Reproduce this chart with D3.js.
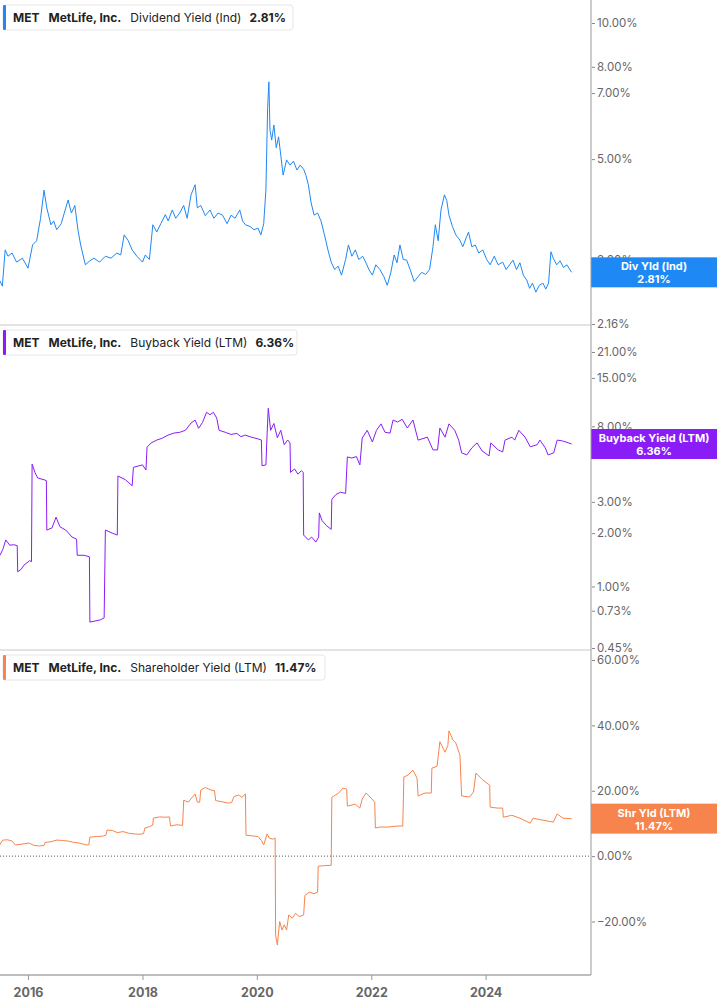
<!DOCTYPE html>
<html><head><meta charset="utf-8">
<script src="https://cdn.jsdelivr.net/npm/d3@7"></script>
<style>
body{margin:0;background:#fff;font-family:Inter,"Noto Sans",sans-serif}
</style></head><body>
<svg id="chart" width="717" height="1005"></svg>
<script>
// decimal year, value in %
const divYield = [
  [2015.50,2.70],[2015.55,2.62],[2015.60,3.15],[2015.65,3.05],[2015.72,3.10],[2015.80,2.96],[2015.90,3.02],[2016.00,2.87],
  [2016.08,3.23],[2016.15,3.30],[2016.22,3.70],[2016.28,4.27],[2016.33,3.90],[2016.40,3.58],[2016.45,3.65],[2016.50,3.49],
  [2016.58,3.60],[2016.65,3.86],[2016.70,4.06],[2016.76,3.80],[2016.82,3.95],[2016.87,3.50],[2016.92,3.23],[2017.00,2.92],
  [2017.08,2.98],[2017.15,3.02],[2017.25,2.96],[2017.35,3.05],[2017.45,3.02],[2017.55,3.10],[2017.62,3.07],[2017.68,3.40],
  [2017.75,3.30],[2017.82,3.15],[2017.90,3.05],[2018.00,2.96],[2018.05,3.07],[2018.12,3.00],[2018.18,3.58],[2018.25,3.45],
  [2018.32,3.60],[2018.40,3.77],[2018.45,3.65],[2018.52,3.86],[2018.58,3.70],[2018.65,3.80],[2018.72,3.95],[2018.78,3.70],
  [2018.85,4.17],[2018.92,4.39],[2018.96,3.90],[2019.02,3.95],[2019.10,3.75],[2019.18,3.86],[2019.25,3.70],[2019.32,3.80],
  [2019.40,3.76],[2019.48,3.60],[2019.55,3.76],[2019.62,3.70],[2019.70,3.86],[2019.75,3.65],[2019.80,3.58],[2019.88,3.55],
  [2019.95,3.49],[2020.02,3.52],[2020.07,3.40],[2020.12,3.60],[2020.16,4.27],[2020.19,6.50],[2020.21,7.41],[2020.23,5.80],
  [2020.26,5.51],[2020.30,5.95],[2020.34,5.30],[2020.38,5.60],[2020.42,5.10],[2020.46,4.61],[2020.52,4.98],[2020.58,4.85],
  [2020.64,4.95],[2020.70,4.73],[2020.76,4.85],[2020.82,4.75],[2020.86,4.60],[2020.90,4.39],[2020.95,4.00],[2021.00,3.76],
  [2021.06,3.80],[2021.12,3.65],[2021.18,3.40],[2021.24,3.15],[2021.30,2.96],[2021.36,2.85],[2021.42,2.90],[2021.48,2.77],
  [2021.55,3.00],[2021.60,3.23],[2021.66,3.05],[2021.72,3.15],[2021.78,3.00],[2021.85,3.05],[2021.90,2.96],[2021.96,2.85],
  [2022.02,2.77],[2022.08,2.92],[2022.15,2.85],[2022.22,2.75],[2022.28,2.63],[2022.34,2.80],[2022.40,3.07],[2022.45,2.95],
  [2022.50,3.23],[2022.56,3.00],[2022.62,2.99],[2022.68,2.85],[2022.75,2.68],[2022.82,2.75],[2022.88,2.81],[2022.95,2.78],
  [2023.02,2.85],[2023.08,3.20],[2023.12,3.58],[2023.17,3.30],[2023.22,3.86],[2023.28,4.17],[2023.32,4.05],[2023.36,3.76],
  [2023.42,3.55],[2023.48,3.40],[2023.55,3.31],[2023.60,3.20],[2023.66,3.35],[2023.70,3.45],[2023.76,3.20],[2023.82,3.23],
  [2023.88,3.10],[2023.95,3.15],[2024.02,3.00],[2024.08,2.92],[2024.15,3.05],[2024.22,2.92],[2024.30,2.96],[2024.36,2.85],
  [2024.42,2.92],[2024.48,2.99],[2024.54,2.85],[2024.60,2.95],[2024.66,2.77],[2024.72,2.70],[2024.77,2.59],[2024.82,2.66],
  [2024.88,2.54],[2024.94,2.63],[2025.00,2.66],[2025.05,2.58],[2025.10,2.66],[2025.14,3.12],[2025.18,3.02],[2025.24,2.92],
  [2025.30,2.98],[2025.36,2.88],[2025.42,2.92],[2025.50,2.81]
];
const buybackYield = [
  [2015.51,1.50],[2015.56,1.62],[2015.61,1.83],[2015.68,1.71],[2015.75,1.72],[2015.81,1.70],[2015.82,1.21],[2015.88,1.25],
  [2015.93,1.32],[2016.03,1.40],[2016.06,1.38],[2016.07,4.90],[2016.12,4.40],[2016.17,4.09],[2016.28,4.00],[2016.32,3.95],
  [2016.33,2.08],[2016.42,2.14],[2016.49,2.46],[2016.56,2.17],[2016.66,2.08],[2016.77,1.90],[2016.85,1.85],[2016.86,1.50],
  [2016.98,1.50],[2017.07,1.47],[2017.08,0.63],[2017.26,0.648],[2017.33,0.665],[2017.35,2.08],[2017.47,2.00],[2017.56,1.95],
  [2017.57,4.20],[2017.70,4.00],[2017.82,3.70],[2017.84,4.70],[2018.00,4.85],[2018.06,4.54],[2018.08,6.10],[2018.15,6.45],
  [2018.25,6.69],[2018.35,6.87],[2018.45,7.14],[2018.55,7.33],[2018.65,7.40],[2018.75,7.60],[2018.85,8.35],[2018.92,8.68],
  [2018.98,7.80],[2019.05,8.40],[2019.12,9.60],[2019.18,9.30],[2019.24,9.60],[2019.30,8.90],[2019.34,7.60],[2019.45,7.40],
  [2019.55,7.20],[2019.65,7.30],[2019.72,7.00],[2019.80,7.14],[2019.90,6.95],[2020.02,6.80],[2020.08,6.70],[2020.09,4.80],
  [2020.16,4.85],[2020.18,7.30],[2020.20,10.11],[2020.24,7.60],[2020.30,8.30],[2020.36,6.90],[2020.42,7.60],[2020.48,6.30],
  [2020.54,6.70],[2020.58,6.45],[2020.59,4.40],[2020.66,4.60],[2020.72,4.30],[2020.78,4.50],[2020.81,4.40],[2020.82,1.95],
  [2020.90,1.83],[2020.96,1.90],[2021.03,1.78],[2021.08,1.90],[2021.09,2.60],[2021.14,2.35],[2021.22,2.20],[2021.30,2.10],
  [2021.31,3.10],[2021.38,3.30],[2021.46,3.40],[2021.55,3.35],[2021.58,5.38],[2021.66,5.30],[2021.74,5.40],[2021.80,4.85],
  [2021.84,6.87],[2021.93,7.60],[2022.02,6.53],[2022.09,7.60],[2022.17,8.26],[2022.24,7.40],[2022.33,7.33],[2022.38,8.68],
  [2022.46,8.46],[2022.54,8.77],[2022.63,7.83],[2022.73,8.68],[2022.82,6.69],[2022.98,6.95],[2023.08,5.89],[2023.16,5.89],
  [2023.20,7.83],[2023.29,6.95],[2023.36,8.26],[2023.46,7.60],[2023.53,6.69],[2023.58,5.67],[2023.67,5.52],[2023.76,6.05],
  [2023.85,6.45],[2023.94,5.81],[2024.06,5.45],[2024.09,6.45],[2024.22,5.89],[2024.30,5.74],[2024.34,6.69],[2024.46,6.95],
  [2024.51,6.69],[2024.58,7.60],[2024.69,6.95],[2024.78,6.13],[2024.90,6.30],[2024.95,6.69],[2025.04,6.05],[2025.09,5.52],
  [2025.19,5.67],[2025.25,6.69],[2025.34,6.62],[2025.42,6.50],[2025.50,6.36]
];
const shareholderYield = [
  [2015.50,3.4],[2015.56,4.9],[2015.64,5.0],[2015.72,4.6],[2015.78,3.4],[2015.86,3.6],[2015.94,3.8],[2016.02,4.0],
  [2016.10,3.3],[2016.20,3.1],[2016.28,3.3],[2016.30,4.2],[2016.40,4.4],[2016.50,4.9],[2016.60,4.8],[2016.70,4.6],
  [2016.80,4.2],[2016.90,4.0],[2017.00,3.5],[2017.06,3.4],[2017.08,5.8],[2017.20,6.0],[2017.30,6.1],[2017.36,6.4],
  [2017.38,8.0],[2017.48,7.8],[2017.56,7.2],[2017.66,7.5],[2017.76,7.0],[2017.86,6.8],[2017.96,6.7],[2018.02,6.9],
  [2018.04,8.6],[2018.12,9.0],[2018.18,9.5],[2018.19,11.6],[2018.30,12.0],[2018.40,11.9],[2018.47,12.0],[2018.49,9.2],
  [2018.60,9.6],[2018.70,9.4],[2018.72,17.1],[2018.80,16.5],[2018.86,17.8],[2018.92,19.0],[2018.96,16.5],[2019.00,16.5],
  [2019.02,20.2],[2019.10,21.0],[2019.20,20.2],[2019.26,20.0],[2019.28,17.0],[2019.40,16.6],[2019.50,16.2],[2019.56,16.4],
  [2019.60,18.2],[2019.68,18.7],[2019.74,18.0],[2019.80,19.0],[2019.81,6.4],[2019.92,6.2],[2020.02,6.0],[2020.08,4.8],
  [2020.12,3.4],[2020.18,6.8],[2020.22,5.5],[2020.28,5.2],[2020.32,5.5],[2020.33,-24.2],[2020.36,-27.2],[2020.40,-20.0],
  [2020.44,-22.6],[2020.48,-21.0],[2020.52,-22.6],[2020.56,-18.0],[2020.62,-19.0],[2020.68,-17.5],[2020.74,-18.5],[2020.82,-18.0],
  [2020.84,-12.0],[2020.92,-11.0],[2021.00,-11.5],[2021.06,-11.0],[2021.07,-3.1],[2021.18,-2.9],[2021.30,-2.8],[2021.31,18.0],
  [2021.43,19.3],[2021.50,20.8],[2021.57,20.5],[2021.58,15.3],[2021.72,15.9],[2021.80,14.7],[2021.84,17.5],[2021.91,19.3],
  [2022.01,17.5],[2022.06,16.5],[2022.07,8.6],[2022.15,8.9],[2022.29,8.9],[2022.45,9.2],[2022.55,9.2],[2022.57,24.2],
  [2022.64,24.8],[2022.73,26.3],[2022.80,23.9],[2022.82,18.4],[2022.94,19.3],[2023.05,19.3],[2023.06,26.9],[2023.15,27.5],
  [2023.20,35.0],[2023.29,31.8],[2023.34,33.9],[2023.36,38.3],[2023.43,35.5],[2023.48,34.6],[2023.55,30.9],[2023.58,18.4],
  [2023.72,18.1],[2023.79,19.6],[2023.83,25.4],[2023.95,23.3],[2024.07,21.7],[2024.08,15.0],[2024.20,14.7],[2024.30,14.7],
  [2024.31,11.9],[2024.46,12.5],[2024.60,11.6],[2024.78,10.1],[2024.83,11.6],[2025.00,11.0],[2025.18,10.4],[2025.25,12.9],
  [2025.35,11.6],[2025.50,11.47]
];
const yearTicks = [2016, 2018, 2020, 2022, 2024];
const divTicks = [10, 8, 7, 5, 3, 2.16];
const buyTicks = [21, 15, 8, 6, 3, 2, 1, 0.73, 0.45];
const shrTicks = [60, 40, 20, 0, -20];

const svg = d3.select('#chart');
const W = 717, plotR = 591;
const toDate = y => { const yr = Math.floor(y); return new Date(yr, 0, 1 + Math.round((y - yr) * 365)); };

const x = d3.scaleTime().domain([toDate(2015.51), toDate(2025.84)]).range([0, plotR]);

const panels = [
  { data: divYield, y: d3.scaleLog().domain([2.16, 10]).range([324, 23]), ticks: divTicks, top: 0, bottom: 325,
    color: '#1e88f5', title: 'Dividend Yield (Ind)', last: '2.81%', tag: 'Div Yld (Ind)', lw: 293 },
  { data: buybackYield, y: d3.scaleLog().domain([0.45, 21]).range([648, 352]), ticks: buyTicks, top: 325, bottom: 650,
    color: '#8a1cf6', title: 'Buyback Yield (LTM)', last: '6.36%', tag: 'Buyback Yield (LTM)', lw: 297 },
  { data: shareholderYield, y: d3.scaleLinear().domain([-20, 60]).range([921.5, 660]), ticks: shrTicks, top: 650, bottom: 975,
    color: '#f7844c', title: 'Shareholder Yield (LTM)', last: '11.47%', tag: 'Shr Yld (LTM)', lw: 325 }
];

panels.forEach((p, i) => {
  const g = svg.append('g');
  const cid = 'clip' + i;
  svg.append('clipPath').attr('id', cid).append('rect')
    .attr('x', 0).attr('y', p.top).attr('width', plotR).attr('height', p.bottom - p.top);

  // separator
  g.append('line').attr('x1', 0).attr('x2', plotR).attr('y1', p.bottom).attr('y2', p.bottom)
    .attr('stroke', '#c8c8c8');

  if (i === 2) {
    g.append('line').attr('x1', 0).attr('x2', plotR).attr('y1', p.y(0)).attr('y2', p.y(0))
      .attr('stroke', '#555').attr('stroke-dasharray', '1,2');
  }

  // right axis
  const ax = g.append('g').attr('transform', `translate(${plotR},0)`)
    .call(d3.axisRight(p.y).tickValues(p.ticks).tickSize(3)
      .tickFormat(d => d3.format('.2f')(d) + '%'));
  ax.select('.domain').remove();
  ax.selectAll('line').attr('stroke', '#888').attr('transform', 'translate(1,0)');
  ax.selectAll('text').attr('fill', '#666').attr('font-size', 11.5).attr('x', 6)
    .attr('font-family', 'Inter, sans-serif');

  // line
  g.append('path').datum(p.data).attr('clip-path', `url(#${cid})`)
    .attr('fill', 'none').attr('stroke', p.color).attr('stroke-width', 1)
    .attr('d', d3.line().x(d => x(toDate(d[0]))).y(d => p.y(d[1])));

  // legend box
  const lg = g.append('g').attr('transform', `translate(3,${p.top + 5})`);
  lg.append('rect').attr('width', p.lw - 3).attr('height', 25).attr('rx', 3)
    .attr('fill', '#fff').attr('stroke', '#e6e6e6');
  lg.append('rect').attr('width', 3).attr('height', 25).attr('rx', 1).attr('fill', p.color);
  const t = lg.append('text').attr('x', 10).attr('y', 17).attr('font-size', 12).attr('fill', '#222')
    .attr('font-family', 'Inter, sans-serif');
  t.append('tspan').attr('font-weight', 700).text('MET');
  t.append('tspan').attr('dx', 9).attr('font-weight', 700).text('MetLife, Inc.');
  t.append('tspan').attr('dx', 9).attr('font-weight', 400).text(p.title);
  t.append('tspan').attr('dx', 8).attr('font-weight', 700).text(p.last);

  // value tag
  const lastV = p.data[p.data.length - 1][1];
  const cy = p.y(lastV);
  g.append('rect').attr('x', plotR).attr('y', cy - 15).attr('width', W - plotR).attr('height', 30).attr('fill', p.color);
  const tx = g.append('text').attr('x', 654).attr('text-anchor', 'middle').attr('fill', '#fff')
    .attr('font-size', 11).attr('font-weight', 700).attr('font-family', 'Inter, sans-serif');
  tx.append('tspan').attr('x', 654).attr('y', cy - 2).text(p.tag);
  tx.append('tspan').attr('x', 654).attr('y', cy + 11).text(p.last);
});

// vertical axis line
svg.append('line').attr('x1', plotR).attr('x2', plotR).attr('y1', 0).attr('y2', 975).attr('stroke', '#999');

// bottom axis
const bx = svg.append('g').attr('transform', 'translate(0,975)')
  .call(d3.axisBottom(x).tickValues(yearTicks.map(y => new Date(y, 0, 1))).tickSize(5).tickFormat(d3.timeFormat('%Y')));
bx.select('.domain').attr('stroke', '#999').attr('d', `M0,0H${plotR}`);
bx.selectAll('line').attr('stroke', '#999');
bx.selectAll('text').attr('fill', '#666').attr('font-size', 12.5).attr('font-weight', 700).attr('dy', '1.1em')
  .attr('font-family', 'Inter, sans-serif');
</script>
</body></html>
